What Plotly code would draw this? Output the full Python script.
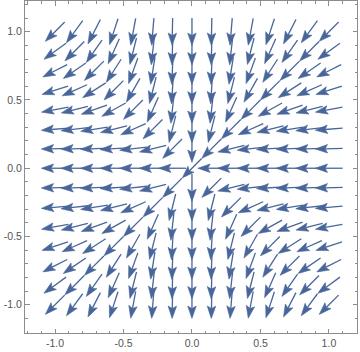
import numpy as np
import plotly.graph_objects as go

# Sample grid (15 x 15 vector points)
grid_x = [-1.0, -0.857, -0.714, -0.571, -0.429, -0.286, -0.143, 0.0,
          0.143, 0.286, 0.429, 0.571, 0.714, 0.857, 1.0]
grid_y = [-1.0, -0.857, -0.714, -0.571, -0.429, -0.286, -0.143, 0.0,
          0.143, 0.286, 0.429, 0.571, 0.714, 0.857, 1.0]

# Field shown in the picture: F(x, y) = (-x^2, -y^2)
def field(x, y):
    return -x * x, -y * y

major_ticks = [-1.0, -0.5, 0.0, 0.5, 1.0]
major_labels = ["-1.0", "-0.5", "0.0", "0.5", "1.0"]
minor_ticks = [-1.2, -1.1, -0.9, -0.8, -0.7, -0.6, -0.4, -0.3, -0.2, -0.1,
               0.1, 0.2, 0.3, 0.4, 0.6, 0.7, 0.8, 0.9, 1.1, 1.2]

ARROW_COLOR = "#48669A"
FRAME_COLOR = "#8c8c8c"
LABEL_COLOR = "#555555"

L = 0.200      # arrow length (data units)
HL = 0.090     # head length
HW = 0.031     # head half width
NOTCH = 0.018  # back notch of the head

sx, sy, hx, hy = [], [], [], []
for xv in grid_x:
    for yv in grid_y:
        u, v = field(xv, yv)
        m = (u * u + v * v) ** 0.5
        if m == 0:
            u, v, m = -1.0, -1.0, 2 ** 0.5
        dx, dy = u / m, v / m
        nx, ny = -dy, dx
        tx, ty = xv - dx * L / 2, yv - dy * L / 2
        px, py = xv + dx * L / 2, yv + dy * L / 2
        bx, by = px - dx * (HL - NOTCH), py - dy * (HL - NOTCH)
        sx += [tx, bx, None]
        sy += [ty, by, None]
        hx += [px, px - dx * HL + nx * HW, bx, px - dx * HL - nx * HW, px, None]
        hy += [py, py - dy * HL + ny * HW, by, py - dy * HL - ny * HW, py, None]

fig = go.Figure()
fig.add_trace(go.Scatter(x=sx, y=sy, mode="lines",
                         line=dict(color=ARROW_COLOR, width=1.3),
                         hoverinfo="skip", showlegend=False))
fig.add_trace(go.Scatter(x=hx, y=hy, mode="lines", fill="toself",
                         fillcolor=ARROW_COLOR,
                         line=dict(color=ARROW_COLOR, width=0.6),
                         hoverinfo="skip", showlegend=False))

axis_common = dict(
    showgrid=False, zeroline=False, showline=True, linecolor=FRAME_COLOR,
    linewidth=1, mirror="allticks", ticks="inside", ticklen=4.5,
    tickwidth=1, tickcolor=FRAME_COLOR,
    tickmode="array", tickvals=major_ticks, ticktext=major_labels,
    tickfont=dict(family="Liberation Sans", size=10.5, color=LABEL_COLOR),
    minor=dict(tickmode="array", tickvals=minor_ticks, ticks="inside",
               ticklen=2.5, tickwidth=1, tickcolor=FRAME_COLOR),
)

fig.update_layout(
    width=360, height=352,
    margin=dict(l=25, r=3, t=1, b=19),
    paper_bgcolor="white", plot_bgcolor="white",
    xaxis=dict(range=[-1.219, 1.205], **axis_common),
    yaxis=dict(range=[-1.207, 1.225], **axis_common),
)

fig.write_html("out.html")
